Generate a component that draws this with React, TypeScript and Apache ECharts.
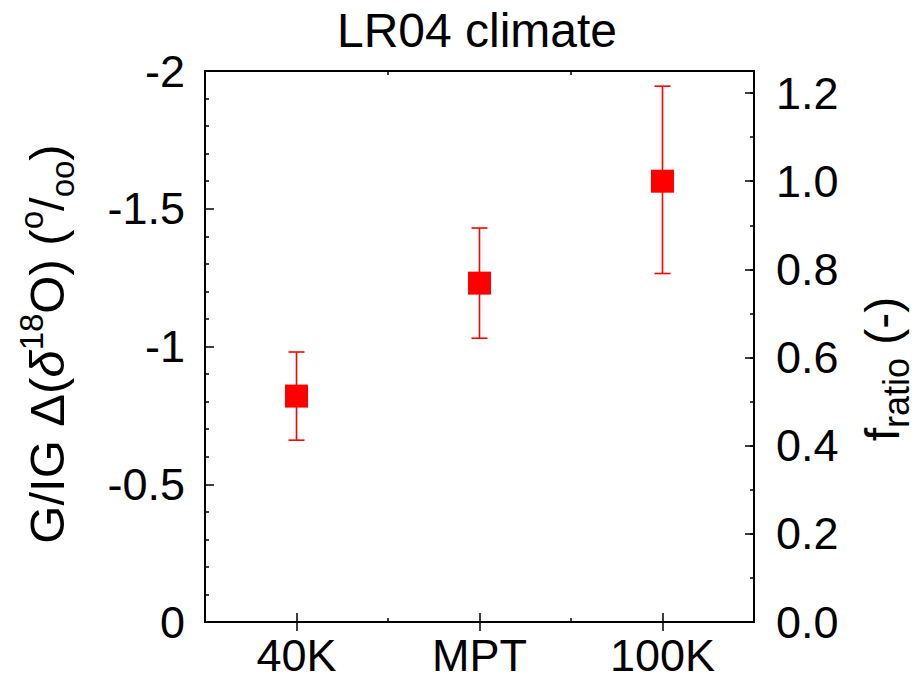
import React, { useEffect, useRef } from "react";
import * as echarts from "echarts";

const categories = ["40K", "MPT", "100K"];
const deltaValues = [-0.82, -1.23, -1.6];
const errTop = [-0.98, -1.43, -1.945];
const errBottom = [-0.66, -1.03, -1.265];

const FONT = "'Liberation Sans', Arial, Helvetica, sans-serif";
const RED = "#ff0000";

export default function App() {
  const ref = useRef<HTMLDivElement>(null);

  useEffect(() => {
    if (!ref.current) return;
    const chart = echarts.init(ref.current, undefined, { renderer: "svg" });

    const tickStyle = { color: "#000", width: 1.5 };
    const baseX = {
      type: "category",
      data: categories,
      boundaryGap: true,
      axisLine: { show: false },
      splitLine: { show: false },
    };

    const option: any = {
      animation: false,
      backgroundColor: "#fff",
      grid: {
        left: 205,
        top: 71,
        width: 549,
        height: 551,
        show: true,
        borderColor: "#000",
        borderWidth: 2,
        backgroundColor: "transparent",
        containLabel: false,
      },
      xAxis: [
        {
          ...baseX,
          position: "bottom",
          axisTick: { show: true, inside: true, alignWithLabel: true, length: 9, interval: 0, lineStyle: tickStyle },
          axisLabel: {
            show: true,
            interval: 0,
            color: "#000",
            fontSize: 45,
            lineHeight: 45,
            fontFamily: FONT,
            margin: 11,
          },
        },
        {
          ...baseX,
          position: "bottom",
          axisTick: { show: true, inside: true, alignWithLabel: false, length: 4, interval: 0, lineStyle: tickStyle },
          axisLabel: { show: false },
        },
        {
          ...baseX,
          position: "top",
          axisTick: { show: true, inside: true, alignWithLabel: true, length: 9, interval: 0, lineStyle: tickStyle },
          axisLabel: { show: false },
        },
        {
          ...baseX,
          position: "top",
          axisTick: { show: true, inside: true, alignWithLabel: false, length: 4, interval: 0, lineStyle: tickStyle },
          axisLabel: { show: false },
        },
      ],
      yAxis: [
        {
          type: "value",
          position: "left",
          inverse: true,
          min: -2,
          max: 0,
          interval: 0.5,
          axisLine: { show: false },
          splitLine: { show: false },
          axisTick: { show: true, inside: true, length: 9, lineStyle: tickStyle },
          minorTick: { show: true, splitNumber: 5, length: 4, lineStyle: tickStyle },
          minorSplitLine: { show: false },
          axisLabel: { color: "#000", fontSize: 45, fontFamily: FONT, margin: 20 },
        },
        {
          type: "value",
          position: "right",
          min: 0,
          max: 1.25,
          interval: 0.2,
          axisLine: { show: false },
          splitLine: { show: false },
          axisTick: { show: true, inside: true, length: 9, lineStyle: tickStyle },
          axisLabel: {
            color: "#000",
            fontSize: 45,
            fontFamily: FONT,
            margin: 22,
            formatter: (v: number) => {
              const k = v / 0.2;
              return Math.abs(k - Math.round(k)) < 1e-6 ? v.toFixed(1) : "";
            },
          },
        },
        {
          type: "value",
          position: "right",
          min: 0,
          max: 1.25,
          interval: 0.1,
          axisLine: { show: false },
          splitLine: { show: false },
          axisTick: { show: true, inside: true, length: 4, lineStyle: tickStyle },
          axisLabel: { show: false },
        },
      ],
      series: [
        {
          type: "custom",
          xAxisIndex: 0,
          yAxisIndex: 0,
          data: categories.map((c, i) => [i, errBottom[i], errTop[i]]),
          encode: { x: 0, y: [1, 2] },
          renderItem: (params: any, api: any) => {
            const x = api.value(0);
            const lo = api.coord([x, api.value(1)]);
            const hi = api.coord([x, api.value(2)]);
            const hw = 8;
            const st = { stroke: RED, lineWidth: 1.6 };
            return {
              type: "group",
              children: [
                { type: "line", shape: { x1: lo[0], y1: lo[1], x2: hi[0], y2: hi[1] }, style: st },
                { type: "line", shape: { x1: lo[0] - hw, y1: lo[1], x2: lo[0] + hw, y2: lo[1] }, style: st },
                { type: "line", shape: { x1: hi[0] - hw, y1: hi[1], x2: hi[0] + hw, y2: hi[1] }, style: st },
              ],
            };
          },
          z: 2,
        },
        {
          type: "scatter",
          xAxisIndex: 0,
          yAxisIndex: 0,
          data: categories.map((c, i) => [i, deltaValues[i]]),
          symbol: "rect",
          symbolSize: 23,
          itemStyle: { color: RED, opacity: 1 },
          z: 3,
        },
      ],
      graphic: [
        {
          type: "text",
          x: 477,
          y: 30,
          style: {
            text: "LR04 climate",
            fontSize: 48,
            fontFamily: FONT,
            fill: "#000",
            align: "center",
            verticalAlign: "middle",
          },
        },
        {
          type: "text",
          x: 47,
          y: 344,
          rotation: Math.PI / 2,
          style: {
            text: "{m|G/IG \u0394(}{it|\u03b4}{sup|18}{m|O) (}{sup|o}{m|/}{sub|oo}{m|)}",
            fontSize: 49,
            fontFamily: FONT,
            fill: "#000",
            align: "center",
            verticalAlign: "middle",
            lineHeight: 64,
            rich: {
              m: { fontSize: 49, fontFamily: FONT, fill: "#000", lineHeight: 64 },
              it: { fontSize: 49, fontStyle: "italic", fontFamily: FONT, fill: "#000", lineHeight: 64 },
              sup: { fontSize: 33, fontFamily: FONT, fill: "#000", verticalAlign: "top", lineHeight: 30 },
              sub: { fontSize: 33, fontFamily: FONT, fill: "#000", verticalAlign: "bottom", lineHeight: 20 },
            },
          },
        },
        {
          type: "text",
          x: 882,
          y: 369,
          rotation: Math.PI / 2,
          style: {
            text: "{m|f}{sub|ratio}{m| (-)}",
            fontSize: 48,
            fontFamily: FONT,
            fill: "#000",
            align: "center",
            verticalAlign: "middle",
            lineHeight: 64,
            rich: {
              m: { fontSize: 48, fontFamily: FONT, fill: "#000", lineHeight: 64 },
              sub: { fontSize: 36, fontFamily: FONT, fill: "#000", verticalAlign: "bottom", lineHeight: 22 },
            },
          },
        },
      ],
    };

    chart.setOption(option);
    return () => chart.dispose();
  }, []);

  return (
    <div
      ref={ref}
      style={{ position: "fixed", left: 0, top: 0, width: 922, height: 683, background: "#fff" }}
    />
  );
}
